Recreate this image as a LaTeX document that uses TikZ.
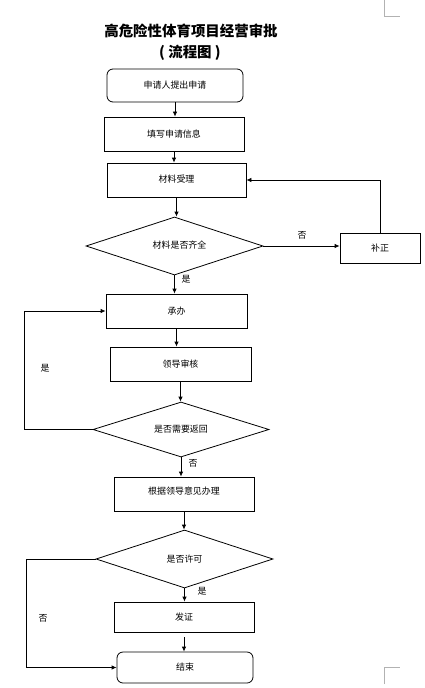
\documentclass[tikz,border=0pt]{standalone}
\usepackage{fontspec}
\setmainfont{Noto Sans CJK SC}
\usetikzlibrary{shapes.geometric,arrows.meta}
\begin{document}
\begin{tikzpicture}[x=1bp,y=-1bp,
  every node/.style={font=\fontsize{9}{11}\selectfont, inner sep=0pt},
  proc/.style={draw, line width=0.8pt, rectangle},
  roundproc/.style={draw, line width=0.8pt, rectangle, rounded corners=6bp},
  decision/.style={draw, line width=0.8pt, diamond, aspect=3},
  arr/.style={line width=0.8pt, -{Latex[length=5bp,width=4.5bp]}},
  lbl/.style={font=\fontsize{9}{11}\selectfont},
  cornermark/.style={draw=gray!60, line width=0.8pt}
]
\useasboundingbox (0,0) rectangle (424,688);

% title
\node[font=\fontsize{14.5}{17}\bfseries] (t1) at (191,31) {高危险性体育项目经营审批};
\node[font=\fontsize{14.5}{17}\bfseries] (t2) at (190,53) {(\ 流程图\ )};

% nodes
\node[roundproc, minimum width=136bp, minimum height=33bp] (n1) at (175,85.5) {申请人提出申请};
\node[proc, minimum width=140bp, minimum height=34bp] (n2) at (174,134) {填写申请信息};
\node[proc, minimum width=139bp, minimum height=34bp] (n3) at (176.5,180) {\raisebox{3bp}{材料受理}};
\node[decision, minimum width=177bp, minimum height=58bp] (d1) at (174.5,246) {\hspace*{10bp}\raisebox{3bp}{材料是否齐全}};
\node[proc, minimum width=80bp, minimum height=30bp] (bz) at (380,248) {补正};
\node[proc, minimum width=141bp, minimum height=34bp] (n4) at (176.5,311) {承办};
\node[proc, minimum width=141bp, minimum height=34bp] (n5) at (180.5,364) {领导审核};
\node[decision, minimum width=176bp, minimum height=55bp] (d2) at (181,429.5) {是否需要返回};
\node[proc, minimum width=140bp, minimum height=34bp] (n6) at (184,494) {\raisebox{7bp}{根据领导意见办理}};
\node[decision, minimum width=177bp, minimum height=58bp] (d3) at (184.5,559) {是否许可};
\node[proc, minimum width=140bp, minimum height=30bp] (n7) at (184,617) {发证};
\node[roundproc, minimum width=136bp, minimum height=31bp] (n8) at (185,667.5) {结束};

% labels
\node[lbl] (l1) at (302,235) {否};
\node[lbl] (l2) at (186,279) {是};
\node[lbl] (l3) at (45,368) {是};
\node[lbl] (l4) at (193,463) {否};
\node[lbl] (l5) at (202,591) {是};
\node[lbl] (l6) at (43,618) {否};

% helper coordinates
\coordinate (L2) at (24,0);
\coordinate (L3) at (26,0);

% connectors
\draw[arr] (n1.south) -- (n1.south |- n2.north);
\draw[arr] (n2.south) -- (n2.south |- n3.north);
\draw[arr] (n3.south) -- (n3.south |- d1.north);
\draw[arr] (d1.east) -- (d1.east -| bz.west);
\draw[arr] (bz.north) |- (n3.east);
\draw[arr] (d1.south) -- (d1.south |- n4.north);
\draw[arr] (n4.south) -- (n4.south |- n5.north);
\draw[arr] (n5.south) -- (n5.south |- d2.north);
\draw[arr] (d2.west) -- (d2.west -| L2) |- (n4.west);
\draw[arr] (d2.south) -- (d2.south |- n6.north);
\draw[arr] (n6.south) -- (n6.south |- d3.north);
\draw[arr] (d3.south) -- (d3.south |- n7.north);
\draw[arr] ([yshift=-5bp]n7.south) -- (n7.south |- n8.north);
\draw[arr] (d3.west) -- (d3.west -| L3) |- (n8.west);

% page corner marks
\draw[cornermark] (384,0) -- (384,16) -- (400,16);
\draw[cornermark] (384,684) -- (384,667) -- (400,667);
\end{tikzpicture}
\end{document}
